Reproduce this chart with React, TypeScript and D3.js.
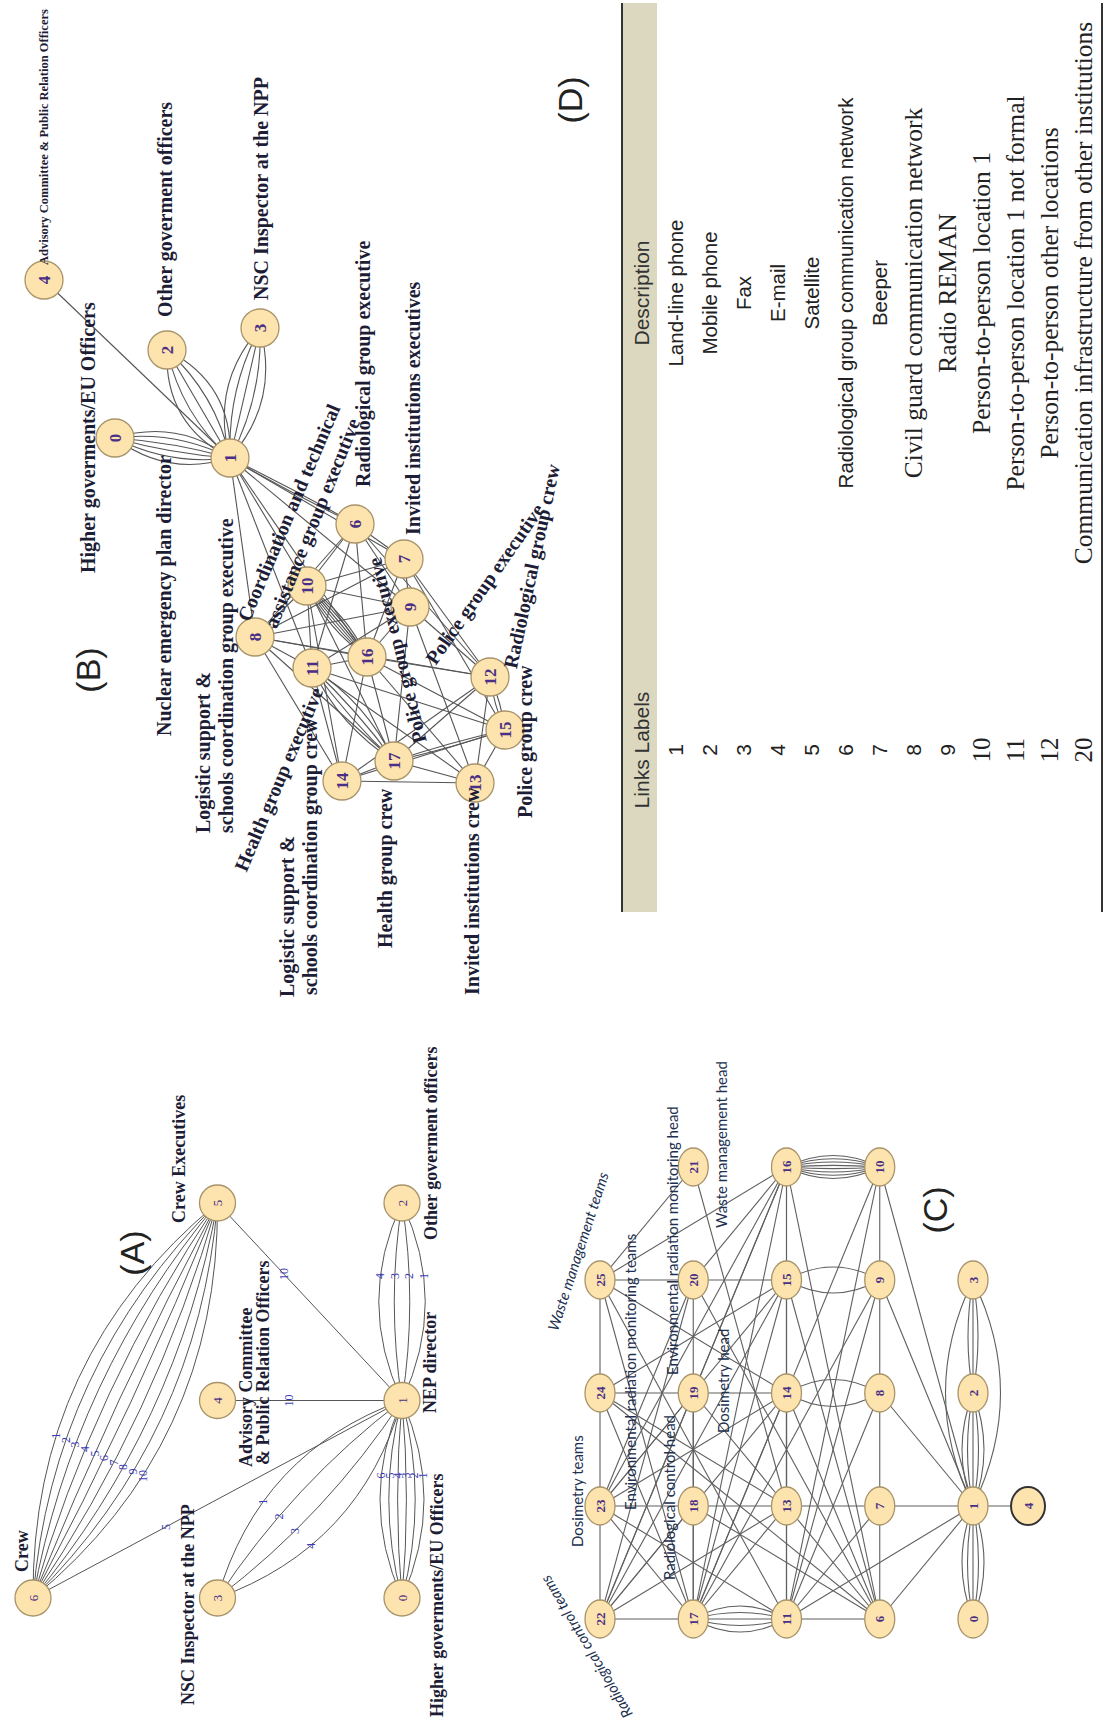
import React from 'react';
import * as d3 from 'd3';

const W = 1113;
const H = 1722;

// ---------------- Panel A data ----------------
const A_NODE_IDS = [6, 3, 0, 4, 1, 5, 2];
const A_NODE_COL = [0, 0, 0, 1, 1, 2, 2];
const A_NODE_ROW = [0, 1, 2, 1, 2, 1, 2];
const A_EDGE_ENDS: [number, number][] = [[6, 5], [1, 2], [0, 1], [3, 1], [5, 1], [4, 1], [6, 1]];
const A_EDGE_LABELS: string[][] = [
  ['1', '2', '3', '4', '5', '6', '7', '8', '9', '10'],
  ['4', '3', '2', '1'],
  ['6', '5', '4', '3', '2', '1'],
  ['1', '2', '3', '4'],
  ['10'],
  ['10'],
  ['5'],
];
const A_NAMES = ['Crew', 'Crew Executives', 'NSC Inspector at the NPP', 'Advisory Committee', '& Public Relation Officers', 'NEP director', 'Other goverment officers', 'Higher goverments/EU Officers'];

// ---------------- Panel B data ----------------
const B_NODE_IDS = [0, 1, 2, 3, 4, 6, 7, 8, 9, 10, 11, 12, 13, 14, 15, 16, 17];
const B_NODE_X = [1284, 1264, 1372, 1394, 1442, 1198, 1163, 1085, 1115, 1136, 1054, 1045, 939, 941, 992, 1065, 961];
const B_NODE_Y = [115, 230, 167, 260, 44, 355, 404, 255, 410, 307, 312, 490, 475, 342, 505, 367, 394];
const B_EDGES: [number, number, number][] = [
  [0, 1, 6], [1, 2, 5], [1, 3, 5], [4, 1, 1], [1, 6, 2], [1, 7, 1], [1, 9, 1], [1, 8, 1], [1, 10, 1], [1, 11, 1], [1, 16, 1],
  [6, 7, 1], [6, 10, 1], [6, 9, 1], [6, 8, 1], [6, 11, 1], [6, 16, 1], [6, 12, 1],
  [7, 10, 1], [7, 8, 1], [7, 9, 1], [7, 12, 1], [7, 15, 1], [7, 16, 1],
  [10, 16, 6], [10, 8, 1], [10, 11, 1], [10, 9, 1], [10, 17, 1], [10, 14, 1],
  [9, 8, 1], [9, 11, 1], [9, 16, 1], [9, 12, 1], [9, 13, 1], [9, 17, 1],
  [8, 11, 1], [8, 16, 1], [8, 14, 1], [8, 17, 1], [8, 12, 1],
  [11, 16, 1], [11, 17, 4], [11, 14, 1], [11, 13, 1], [11, 15, 1],
  [16, 17, 1], [16, 14, 1], [16, 12, 1], [16, 13, 1], [16, 15, 1],
  [12, 15, 2], [12, 13, 1], [12, 17, 1], [12, 14, 1],
  [15, 17, 2], [15, 13, 1], [15, 14, 1],
  [17, 14, 1], [17, 13, 1], [14, 13, 1],
];
const B_NAMES = [
  'Advisory Committee & Public Relation Officers', 'Higher goverments/EU Officers', 'Other goverment officers',
  'NSC Inspector at the NPP', 'Nuclear emergency plan director', 'Logistic support &', 'schools coordination group executive',
  'Coordination  and  technical', 'assistance group executive', 'Radiological group executive', 'Invited institutions executives',
  'Police group executive', 'Radiological group crew', 'Police group executive', 'Health  group executive',
  'Logistic support &', 'schools coordination  group crew', 'Health  group crew', 'Invited institutions crew', 'Police group crew',
];

// ---------------- Panel C data ----------------
const C_NODE_IDS = [22, 23, 24, 25, 17, 18, 19, 20, 21, 11, 13, 14, 15, 16, 6, 7, 8, 9, 10, 0, 1, 2, 3, 4];
const C_NODE_COL = [0, 1, 2, 3, 0, 1, 2, 3, 4, 0, 1, 2, 3, 4, 0, 1, 2, 3, 4, 0, 1, 2, 3, 1];
const C_NODE_ROW = [0, 0, 0, 0, 1, 1, 1, 1, 1, 2, 2, 2, 2, 2, 3, 3, 3, 3, 3, 4, 4, 4, 4, 4.59];
const C_EDGES: [number, number, number][] = [
  [25, 24, 1], [24, 23, 1], [23, 22, 1], [16, 15, 1], [15, 14, 1], [14, 13, 1], [10, 9, 1], [9, 8, 1], [8, 7, 1], [7, 6, 1],
  [25, 20, 1], [20, 15, 1], [24, 19, 1], [19, 14, 1], [23, 18, 1], [18, 13, 1], [13, 7, 1], [7, 1, 1], [22, 17, 1], [11, 6, 1], [1, 4, 1],
  [21, 25, 1], [21, 13, 1], [16, 25, 1], [16, 20, 1], [16, 19, 1], [16, 23, 1], [16, 22, 1], [16, 17, 1], [16, 11, 1], [16, 6, 1],
  [10, 11, 1], [10, 17, 1], [10, 1, 1], [9, 11, 1], [9, 17, 1], [9, 1, 1], [8, 11, 1], [8, 1, 1],
  [15, 22, 1], [15, 23, 1], [15, 17, 1], [15, 11, 1], [15, 24, 1], [15, 6, 1],
  [14, 17, 1], [14, 22, 1], [14, 6, 1], [14, 11, 1], [14, 23, 1],
  [20, 22, 1], [20, 17, 1], [20, 6, 1], [19, 22, 1], [19, 17, 1], [19, 13, 1], [19, 23, 1],
  [24, 17, 1], [24, 13, 1], [24, 6, 1], [25, 17, 1], [25, 11, 1], [25, 14, 1],
  [23, 17, 1], [23, 20, 1], [23, 11, 1], [18, 22, 1], [18, 6, 1], [13, 22, 1], [13, 6, 1], [13, 17, 1],
  [7, 11, 1], [6, 1, 1], [11, 1, 1],
  [16, 10, 8], [15, 9, 2], [14, 8, 2], [17, 11, 5], [1, 0, 5], [1, 2, 5], [3, 2, 3], [3, 1, 2],
];
const C_NAMES = ['Waste management teams', 'Environmental radiation monitoring teams', 'Environmental radiation monitoring head',
  'Radiological control head', 'Waste management head', 'Dosimetry head', 'Dosimetry teams', 'Radiological control teams'];

// ---------------- Table D data ----------------
const LINK_LABELS = ['1', '2', '3', '4', '5', '6', '7', '8', '9', '10', '11', '12', '20'];
const DESCRIPTIONS = [
  'Land-line phone', 'Mobile phone', 'Fax', 'E-mail', 'Satellite', 'Radiological group communication  network', 'Beeper',
  'Civil  guard communication network', 'Radio  REMAN', 'Person-to-person location 1', 'Person-to-person location 1 not formal',
  'Person-to-person other locations', 'Communication infrastructure from other institutions',
];
const TABLE_HEADERS = ['Links Labels', 'Description'];
const PANEL_TAGS = ['(A)', '(B)', '(C)', '(D)'];

// ---------------- helpers ----------------
type Pt = { x: number; y: number };
function edgeGeom(a: Pt, b: Pt, off: number) {
  const dx = b.x - a.x, dy = b.y - a.y;
  const len = Math.hypot(dx, dy) || 1;
  const px = -dy / len, py = dx / len;
  const c = { x: (a.x + b.x) / 2 + px * off, y: (a.y + b.y) / 2 + py * off };
  const p = d3.path();
  p.moveTo(a.x, a.y);
  if (off === 0) p.lineTo(b.x, b.y);
  else p.quadraticCurveTo(c.x, c.y, b.x, b.y);
  const at = (t: number) => ({
    x: (1 - t) * (1 - t) * a.x + 2 * (1 - t) * t * c.x + t * t * b.x,
    y: (1 - t) * (1 - t) * a.y + 2 * (1 - t) * t * c.y + t * t * b.y,
  });
  return { d: p.toString(), at };
}
function bundle(a: Pt, b: Pt, n: number, s: number) {
  return d3.range(n).map((i) => edgeGeom(a, b, n === 1 ? 0 : (i - (n - 1) / 2) * s));
}

const NODE_FILL = '#fde3ad';
const NODE_STROKE = '#a8946a';
const NUM_FILL = '#4a2f86';
const LABEL_FILL = '#1d1d36';
const SERIF = '"Liberation Serif", "Times New Roman", serif';
const SANS = '"Liberation Sans", Arial, sans-serif';
const HUMAN = 'Lato, "Open Sans", sans-serif';

function Label(p: { t: string; x: number; y: number; a?: number; size: number; fam: string; bold?: boolean; it?: boolean; fill?: string; anchor?: string }) {
  return (
    <text x={p.x} y={p.y} transform={p.a ? `rotate(${p.a},${p.x},${p.y})` : undefined}
      fontFamily={p.fam} fontSize={p.size} fontWeight={p.bold ? 'bold' : 'normal'} fontStyle={p.it ? 'italic' : 'normal'}
      fill={p.fill || LABEL_FILL} dominantBaseline="central" textAnchor={p.anchor || 'start'}>{p.t}</text>
  );
}

export default function App() {
  // ---- Panel A ----
  const aX = d3.scaleLinear().domain([0, 2]).range([124, 519]);
  const aY = d3.scaleLinear().domain([0, 2]).range([33, 402]);
  const aPos = new Map<number, Pt>();
  A_NODE_IDS.forEach((id, i) => aPos.set(id, { x: aX(A_NODE_COL[i]), y: aY(A_NODE_ROW[i]) }));
  const aSpacing = [23, 31, 17.6, 46, 0, 0, 0];
  const aLabelT = [0.36, 0.63, 0.62, 0.376, 0.36, 0.39, 0.36];
  const aEdges = A_EDGE_ENDS.map(([s, t], k) => {
    const geoms = bundle(aPos.get(s)!, aPos.get(t)!, A_EDGE_LABELS[k].length, aSpacing[k]);
    return geoms.map((g, i) => ({ d: g.d, lp: g.at(aLabelT[k]), lbl: A_EDGE_LABELS[k][i] }));
  }).flat();
  const aLabelPos: [number, number][] = [[150, 22], [499, 179], [17, 188], [255, 246], [257, 263], [309, 430], [482, 431], [5, 437]];

  // ---- Panel B ----
  const bPos = new Map<number, Pt>();
  B_NODE_IDS.forEach((id, i) => bPos.set(id, { x: B_NODE_X[i], y: B_NODE_Y[i] }));
  const bSp: Record<string, number> = { '0-1': 12, '1-2': 20, '1-3': 18, '1-6': 5, '10-16': 5, '11-17': 12, '12-15': 8, '15-17': 6 };
  const bEdges = B_EDGES.map(([s, t, n]) => bundle(bPos.get(s)!, bPos.get(t)!, n, bSp[`${s}-${t}`] || 0)).flat();
  const bLabelPos: [number, number, number][] = [
    [1457, 44, 0], [1149, 88, 0], [1405, 165, 0], [1422, 261, 0], [986, 164, 0], [889, 203, 0], [889, 226, 0],
    [1102, 243, 23], [1095, 270, 22], [1235, 363, 0], [1187, 413, 0], [1060, 430, 35], [1054, 510, 12], [979, 420, -14],
    [852, 240, 23], [725, 287, 0], [727, 310, 0], [774, 385, 0], [727, 472, 0], [904, 525, 0],
  ];

  // ---- Panel C ----
  const cX = d3.scaleLinear().domain([0, 4]).range([103, 555]);
  const cY = d3.scaleLinear().domain([0, 4]).range([600, 973]);
  const cPos = new Map<number, Pt>();
  C_NODE_IDS.forEach((id, i) => cPos.set(id, { x: cX(C_NODE_COL[i]), y: cY(C_NODE_ROW[i]) }));
  const cSp: Record<string, number> = { '16-10': 6.6, '15-9': 52, '14-8': 54, '17-11': 13, '1-0': 11, '1-2': 11, '3-2': 10, '3-1': 110 };
  const cEdges = C_EDGES.map(([s, t, n]) => bundle(cPos.get(s)!, cPos.get(t)!, n, cSp[`${s}-${t}`] || 0)).flat();
  const cLabelPos: [number, number, number, boolean][] = [
    [392, 552, 18, true], [212, 630, 0, false], [347, 672, 0, false], [142, 669, 0, false],
    [494, 721, 0, false], [289, 723, 0, false], [175, 577, 0, false], [5, 628, -31, true],
  ];

  // ---- Table D ----
  const tX0 = 810, tX1 = 1719;
  const rowY = d3.scaleLinear().domain([0, 12]).range([675, 1083]);
  const serifRow = (i: number) => i >= 7;
  const serifNum = (i: number) => i >= 9;

  const tagPos: [number, number][] = [[469, 132], [1052, 88], [512, 935], [1622, 570]];

  return (
    <svg width={W} height={H} viewBox={`0 0 ${W} ${H}`} style={{ position: 'absolute', left: 0, top: 0, background: '#fff' }}>
      <rect x={0} y={0} width={W} height={H} fill="#fff" />
      <g transform={`translate(0,${H}) rotate(-90)`}>
        {/* ===== Panel A ===== */}
        <g>
          {aEdges.map((e, i) => <path key={i} d={e.d} fill="none" stroke="#555" strokeWidth={1} />)}
          {aEdges.map((e, i) => (
            <text key={i} x={e.lp.x} y={e.lp.y} fontFamily={SERIF} fontSize={12} fill="#3b3bb5" textAnchor="middle" dominantBaseline="central">{e.lbl}</text>
          ))}
          {A_NODE_IDS.map((id) => {
            const p = aPos.get(id)!;
            return (
              <g key={id}>
                <circle cx={p.x} cy={p.y} r={18} fill={NODE_FILL} stroke={NODE_STROKE} strokeWidth={1.3} />
                <text x={p.x} y={p.y} fontFamily={SERIF} fontSize={13} fill={NUM_FILL} textAnchor="middle" dominantBaseline="central">{id}</text>
              </g>
            );
          })}
          {A_NAMES.map((t, i) => <Label key={i} t={t} x={aLabelPos[i][0]} y={aLabelPos[i][1]} size={18} fam={SERIF} bold />)}
        </g>

        {/* ===== Panel B ===== */}
        <g>
          {bEdges.map((e, i) => <path key={i} d={e.d} fill="none" stroke="#555" strokeWidth={1.1} />)}
          {B_NODE_IDS.map((id) => {
            const p = bPos.get(id)!;
            return (
              <g key={id}>
                <circle cx={p.x} cy={p.y} r={19} fill={NODE_FILL} stroke={NODE_STROKE} strokeWidth={1.3} />
                <text x={p.x} y={p.y} fontFamily={SERIF} fontWeight="bold" fontSize={17} fill={NUM_FILL} textAnchor="middle" dominantBaseline="central">{id}</text>
              </g>
            );
          })}
          {B_NAMES.map((t, i) => (
            <Label key={i} t={t} x={bLabelPos[i][0]} y={bLabelPos[i][1]} a={bLabelPos[i][2]} size={i === 0 ? 12.5 : 20} fam={SERIF} bold />
          ))}
        </g>

        {/* ===== Panel C ===== */}
        <g>
          {cEdges.map((e, i) => <path key={i} d={e.d} fill="none" stroke="#5f5f5f" strokeWidth={1.1} />)}
          {C_NODE_IDS.map((id) => {
            const p = cPos.get(id)!;
            const special = id === 4;
            return (
              <g key={id}>
                <ellipse cx={p.x} cy={p.y} rx={19} ry={special ? 17 : 15} fill={NODE_FILL} stroke={special ? '#333' : NODE_STROKE} strokeWidth={special ? 2 : 1.3} />
                <text x={p.x} y={p.y} fontFamily={SERIF} fontWeight="bold" fontSize={13} fill={NUM_FILL} textAnchor="middle" dominantBaseline="central">{id}</text>
              </g>
            );
          })}
          {C_NAMES.map((t, i) => <Label key={i} t={t} x={cLabelPos[i][0]} y={cLabelPos[i][1]} a={cLabelPos[i][2]} it={cLabelPos[i][3]} size={15} fam={HUMAN} fill="#22304f" />)}
        </g>

        {/* ===== Table D ===== */}
        <g>
          <rect x={tX0} y={623} width={tX1 - tX0} height={34} fill="#dcd8bf" />
          <line x1={tX0} x2={tX1} y1={622} y2={622} stroke="#333" strokeWidth={2} />
          <line x1={tX0} x2={tX1} y1={1102} y2={1102} stroke="#333" strokeWidth={2} />
          <Label t={TABLE_HEADERS[0]} x={972} y={641} size={21} fam={SANS} anchor="middle" fill="#333" />
          <Label t={TABLE_HEADERS[1]} x={1429} y={641} size={21} fam={SANS} anchor="middle" fill="#333" />
          {LINK_LABELS.map((t, i) => (
            <Label key={i} t={t} x={972} y={rowY(i)} size={serifNum(i) ? 25 : 21} fam={serifNum(i) ? SERIF : SANS} anchor="middle" fill="#222" />
          ))}
          {DESCRIPTIONS.map((t, i) => (
            <Label key={i} t={t} x={1429} y={rowY(i)} size={serifRow(i) ? 25.5 : 20.5} fam={serifRow(i) ? SERIF : SANS} anchor="middle" fill="#222" />
          ))}
        </g>

        {PANEL_TAGS.map((t, i) => <Label key={i} t={t} x={tagPos[i][0]} y={tagPos[i][1]} size={34} fam={SANS} anchor="middle" fill="#222" />)}
      </g>
    </svg>
  );
}
